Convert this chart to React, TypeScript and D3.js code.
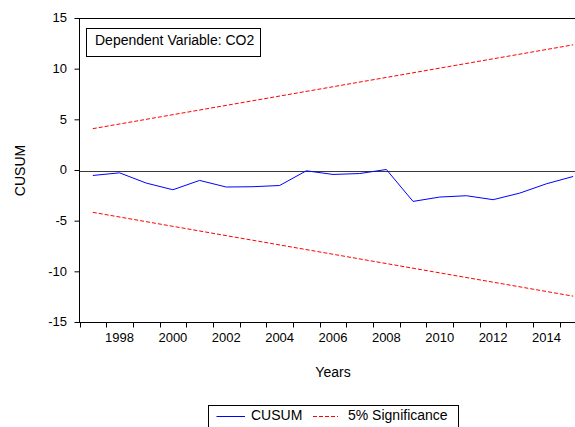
import React from "react";
import * as d3 from "d3";

const years = [1997, 1998, 1999, 2000, 2001, 2002, 2003, 2004, 2005, 2006, 2007, 2008, 2009, 2010, 2011, 2012, 2013, 2014, 2015];
const cusum = [-0.49, -0.23, -1.24, -1.9, -0.98, -1.63, -1.6, -1.48, -0.03, -0.39, -0.3, 0.1, -3.05, -2.62, -2.49, -2.88, -2.23, -1.31, -0.59];
const boundYears = [1997, 2015];
const upperBound = [4.13, 12.4];
const lowerBound = [-4.13, -12.4];
const yTicks = [-15, -10, -5, 0, 5, 10, 15];
const xLabels = [1998, 2000, 2002, 2004, 2006, 2008, 2010, 2012, 2014];

const FONT = "'Liberation Sans', Arial, Helvetica, sans-serif";

export default function App() {
  const W = 575, H = 427;
  const left = 79.5, right = 586.5, top = 18.5, bottom = 322.5;
  const x = d3.scaleLinear().domain([1996.5, 2015.5]).range([left, right]);
  const y = d3.scaleLinear().domain([-15, 15]).range([bottom, top]);
  const line = d3.line<[number, number]>().x(d => x(d[0])).y(d => y(d[1]));
  const cusumPts: [number, number][] = years.map((yr, i) => [yr, cusum[i]]);
  const upPts: [number, number][] = boundYears.map((yr, i) => [yr, upperBound[i]]);
  const loPts: [number, number][] = boundYears.map((yr, i) => [yr, lowerBound[i]]);
  const boundaries = d3.range(years.length + 1).map(i => years[0] - 0.5 + i);

  return (
    <svg width={W} height={H} style={{ position: "absolute", left: 0, top: 0, background: "#fff" }} fontFamily={FONT}>
      <rect x={0} y={0} width={W} height={H} fill="#fff" />
      {/* zero line */}
      <line x1={left} x2={right} y1={Math.round(y(0)) + 0.5} y2={Math.round(y(0)) + 0.5} stroke="#3a3a3a" strokeWidth={1} />
      {/* bounds */}
      <path d={line(upPts) || ""} fill="none" stroke="#ff0000" strokeWidth={1} strokeDasharray="4,2" />
      <path d={line(loPts) || ""} fill="none" stroke="#ff0000" strokeWidth={1} strokeDasharray="4,2" />
      {/* cusum */}
      <path d={line(cusumPts) || ""} fill="none" stroke="#0000ff" strokeWidth={1} />
      {/* frame */}
      <rect x={left} y={top} width={right - left} height={bottom - top} fill="none" stroke="#000" strokeWidth={1} />
      {/* y ticks */}
      {yTicks.map(t => (
        <g key={t}>
          <line x1={left - 5} x2={left} y1={y(t)} y2={y(t)} stroke="#000" />
          <text x={67} y={y(t)} dy="0.3em" textAnchor="end" fontSize={13} fill="#000">{t}</text>
        </g>
      ))}
      {/* x ticks */}
      {boundaries.map(b => (
        <line key={b} x1={Math.round(x(b)) + 0.5} x2={Math.round(x(b)) + 0.5} y1={bottom} y2={bottom + 5} stroke="#000" />
      ))}
      {xLabels.map(l => (
        <text key={l} x={x(l)} y={341.5} textAnchor="middle" fontSize={13} fill="#000">{l}</text>
      ))}
      {/* axis titles */}
      <text x={(left + right) / 2} y={376.5} textAnchor="middle" fontSize={14} fill="#000">Years</text>
      <text transform={`translate(25,${(top + bottom) / 2}) rotate(-90)`} textAnchor="middle" fontSize={14} fill="#000">CUSUM</text>
      {/* inner label box */}
      <rect x={86.5} y={28.5} width={174} height={28} fill="#fff" stroke="#000" />
      <text x={95} y={44.5} fontSize={14} fill="#000">Dependent Variable: CO2</text>
      {/* bottom legend */}
      <rect x={208.5} y={405.5} width={250} height={30} fill="#fff" stroke="#000" />
      <line x1={216.5} x2={245} y1={416.5} y2={416.5} stroke="#0000ff" />
      <text x={251} y={419.5} fontSize={14} fill="#000">CUSUM</text>
      <line x1={313} x2={338} y1={416.5} y2={416.5} stroke="#ff0000" strokeDasharray="4,2" />
      <text x={348} y={419.5} fontSize={14} fill="#000">5% Significance</text>
    </svg>
  );
}
